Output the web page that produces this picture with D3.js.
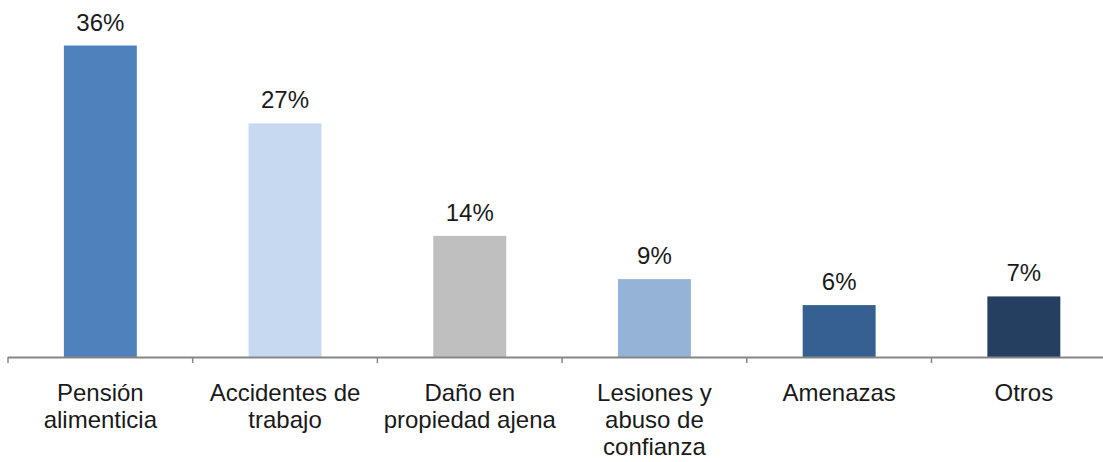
<!DOCTYPE html>
<html>
<head>
<meta charset="utf-8">
<script src="https://cdn.jsdelivr.net/npm/d3@7"></script>
<style>
  body { margin: 0; background: #fff; }
  svg { display: block; font-family: "Liberation Sans", Arial, sans-serif; }
</style>
</head>
<body>
<div id="chart"></div>
<script>
// categories (label lines) and values in percent
const categories = [
    ["Pensión", "alimenticia"],
    ["Accidentes de", "trabajo"],
    ["Daño en", "propiedad ajena"],
    ["Lesiones y", "abuso de", "confianza"],
    ["Amenazas"],
    ["Otros"]
];
const values = [36, 27, 14, 9, 6, 7];
const colors = ["#4f81bd", "#c6d9f1", "#bfbfbf", "#95b3d7", "#376092", "#243f60"];

const width = 1103, height = 462;
const x0 = 8, step = 184.7;
const baseY = 357;

const svg = d3.select("#chart").append("svg")
    .attr("width", width)
    .attr("height", height);

const keys = categories.map((c, i) => i);

const x = d3.scaleBand()
    .domain(keys)
    .range([x0, x0 + step * keys.length])
    .paddingInner(0.605)
    .paddingOuter(0.3025);

const y = d3.scaleLinear()
    .domain([0, 36])
    .range([baseY, 45.5]);

// bars
svg.selectAll("rect.bar")
    .data(values)
    .join("rect")
    .attr("class", "bar")
    .attr("x", (d, i) => x(i))
    .attr("y", d => y(d))
    .attr("width", x.bandwidth())
    .attr("height", d => baseY - y(d))
    .attr("fill", (d, i) => colors[i]);

// value labels
svg.selectAll("text.val")
    .data(values)
    .join("text")
    .attr("class", "val")
    .attr("x", (d, i) => x(i) + x.bandwidth() / 2)
    .attr("y", d => y(d) - 15)
    .attr("text-anchor", "middle")
    .attr("font-size", 24)
    .attr("fill", "#1a1a1a")
    .text(d => d + "%");

// axis line and ticks between categories
svg.append("line")
    .attr("x1", x0).attr("x2", width)
    .attr("y1", baseY + 0.5).attr("y2", baseY + 0.5)
    .attr("stroke", "#868686").attr("stroke-width", 2);

svg.selectAll("line.tick")
    .data(d3.range(keys.length + 1))
    .join("line")
    .attr("class", "tick")
    .attr("x1", i => x0 + i * step).attr("x2", i => x0 + i * step)
    .attr("y1", baseY).attr("y2", baseY + 6)
    .attr("stroke", "#868686").attr("stroke-width", 1.5);

// category labels
const cat = svg.selectAll("text.cat")
    .data(categories)
    .join("text")
    .attr("class", "cat")
    .attr("text-anchor", "middle")
    .attr("font-size", 24)
    .attr("fill", "#1a1a1a");

cat.selectAll("tspan")
    .data((d, i) => d.map(line => ({ line, i })))
    .join("tspan")
    .attr("x", d => x(d.i) + x.bandwidth() / 2)
    .attr("y", (d, j) => 401 + j * 27)
    .text(d => d.line);
</script>
</body>
</html>
